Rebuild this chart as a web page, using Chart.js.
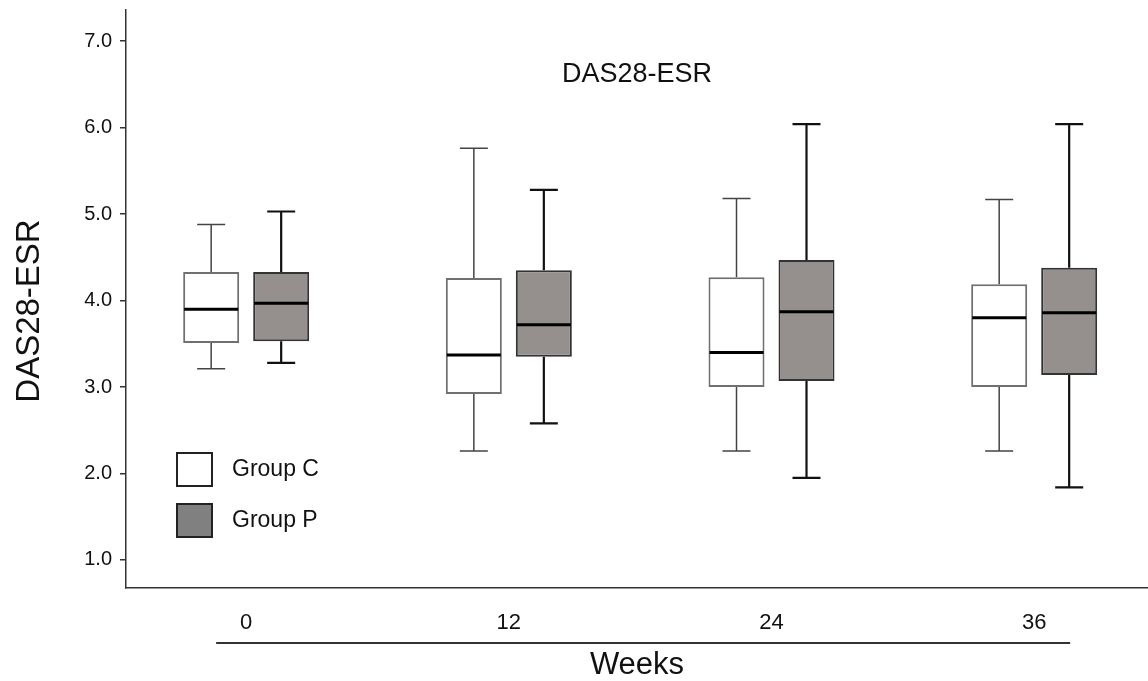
<!DOCTYPE html>
<html>
<head>
<meta charset="utf-8">
<script src="https://cdn.jsdelivr.net/npm/chart.js@4"></script>
<style>
  html, body { margin: 0; padding: 0; background: #fff; }
  #wrap { width: 1148px; height: 681px; }
</style>
</head>
<body>
<div id="wrap"><canvas id="boxChart" width="1148" height="681"></canvas></div>
<script>
// semaines de suivi
const weeks = [0, 12, 24, 36];
const yTicks = [1, 2, 3, 4, 5, 6, 7];

// Group C (min, Q1, mediane, Q3, max)
const groupCMin = [3.21, 2.26, 2.26, 2.26];
const groupCQ1 = [3.51, 2.92, 3.00, 3.00];
const groupCMedian = [3.90, 3.37, 3.40, 3.80];
const groupCQ3 = [4.33, 4.26, 4.27, 4.19];
const groupCMax = [4.88, 5.76, 5.18, 5.17];

// Group P
const groupPMin = [3.28, 2.58, 1.95, 1.84];
const groupPQ1 = [3.53, 3.35, 3.07, 3.14];
const groupPMedian = [3.97, 3.72, 3.87, 3.86];
const groupPQ3 = [4.33, 4.35, 4.47, 4.38];
const groupPMax = [5.03, 5.28, 6.04, 6.04];

const FONT = "'Liberation Sans', Arial, sans-serif";

function boxData(q1, q3) {
    return weeks.map((w, i) => ({ x: w, y: [q1[i], q3[i]] }));
}

// moustaches + mediane dessinees a partir des barres
const whiskerPlugin = {
    id: 'whiskers',
    beforeDatasetsDraw(chart) {
        const ctx = chart.ctx;
        const y = chart.scales.y;
        chart.data.datasets.forEach((ds, di) => {
            const meta = chart.getDatasetMeta(di);
            meta.data.forEach((bar, i) => {
                const cap = bar.width / 2;
                ctx.save();
                ctx.strokeStyle = ds.whiskerColor;
                ctx.lineWidth = ds.whiskerWidth;
                ctx.beginPath();
                ctx.moveTo(bar.x, y.getPixelForValue(ds.stats.max[i]));
                ctx.lineTo(bar.x, y.getPixelForValue(ds.stats.q3[i]));
                ctx.moveTo(bar.x, y.getPixelForValue(ds.stats.q1[i]));
                ctx.lineTo(bar.x, y.getPixelForValue(ds.stats.min[i]));
                ctx.moveTo(bar.x - cap / 2, y.getPixelForValue(ds.stats.max[i]));
                ctx.lineTo(bar.x + cap / 2, y.getPixelForValue(ds.stats.max[i]));
                ctx.moveTo(bar.x - cap / 2, y.getPixelForValue(ds.stats.min[i]));
                ctx.lineTo(bar.x + cap / 2, y.getPixelForValue(ds.stats.min[i]));
                ctx.stroke();
                ctx.restore();
            });
        });
    },
    afterDatasetsDraw(chart) {
        const ctx = chart.ctx;
        const y = chart.scales.y;
        chart.data.datasets.forEach((ds, di) => {
            const meta = chart.getDatasetMeta(di);
            meta.data.forEach((bar, i) => {
                const py = y.getPixelForValue(ds.stats.median[i]);
                ctx.save();
                ctx.strokeStyle = '#000';
                ctx.lineWidth = 3;
                ctx.beginPath();
                ctx.moveTo(bar.x - bar.width / 2 + 1, py);
                ctx.lineTo(bar.x + bar.width / 2 - 1, py);
                ctx.stroke();
                ctx.restore();
            });
        });
    },
    afterDraw(chart) {
        const ctx = chart.ctx;
        const area = chart.chartArea;
        const x = chart.scales.x;

        // titre dans la zone du graphique
        ctx.save();
        ctx.fillStyle = '#111';
        ctx.font = '27px ' + FONT;
        ctx.textAlign = 'center';
        ctx.textBaseline = 'middle';
        ctx.fillText('DAS28-ESR', (area.left + area.right) / 2, 75);

        // titre de l'axe y
        ctx.save();
        ctx.translate(30, (area.top + area.bottom) / 2 + 12);
        ctx.rotate(-Math.PI / 2);
        ctx.font = '33px ' + FONT;
        ctx.fillText('DAS28-ESR', 0, 0);
        ctx.restore();

        // trait sous les semaines
        ctx.strokeStyle = '#333';
        ctx.lineWidth = 2;
        ctx.beginPath();
        ctx.moveTo(x.getPixelForValue(weeks[0]) - 30, x.top + 55);
        ctx.lineTo(x.getPixelForValue(weeks[weeks.length - 1]) + 36, x.top + 55);
        ctx.stroke();

        // legende
        ctx.font = '23px ' + FONT;
        ctx.textAlign = 'left';
        chart.data.datasets.forEach((ds, di) => {
            const top = area.bottom - 135 + di * 51;
            const left = area.left + 51;
            ctx.fillStyle = ds.legendFill;
            ctx.fillRect(left, top, 35, 33);
            ctx.strokeStyle = '#222';
            ctx.lineWidth = 2;
            ctx.strokeRect(left, top, 35, 33);
            ctx.fillStyle = '#111';
            ctx.fillText(ds.label, left + 55, top + 17);
        });
        ctx.restore();
    }
};

new Chart(document.getElementById('boxChart'), {
    type: 'bar',
    data: {
        datasets: [{
            label: 'Group C',
            data: boxData(groupCQ1, groupCQ3),
            backgroundColor: '#ffffff',
            borderColor: '#707070',
            borderWidth: 2,
            borderSkipped: false,
            whiskerColor: '#444',
            whiskerWidth: 1.5,
            legendFill: '#ffffff',
            stats: { min: groupCMin, q1: groupCQ1, median: groupCMedian, q3: groupCQ3, max: groupCMax },
        },
        {
            label: 'Group P',
            data: boxData(groupPQ1, groupPQ3),
            backgroundColor: '#958f8e',
            borderColor: '#333',
            borderWidth: 2,
            borderSkipped: false,
            whiskerColor: '#111',
            whiskerWidth: 2.2,
            legendFill: '#808080',
            stats: { min: groupPMin, q1: groupPQ1, median: groupPMedian, q3: groupPQ3, max: groupPMax },
        }]
    },
    plugins: [whiskerPlugin],
    options: {
        responsive: false,
        animation: false,
        categoryPercentage: 0.533,
        barPercentage: 0.8,
        layout: { padding: { top: 10, right: 0, left: 0, bottom: 0 } },
        scales: {
            x: {
                type: 'linear',
                min: -5.49,
                max: 41.2,
                offset: false,
                afterBuildTicks: (scale) => { scale.ticks = weeks.map(v => ({ value: v })); },
                afterFit: (scale) => { scale.height = 93; },
                grid: { drawOnChartArea: false, drawTicks: false },
                border: { display: true, color: '#333', width: 1.5 },
                ticks: {
                    padding: 22,
                    color: '#111',
                    font: { family: FONT, size: 22 },
                    callback: (v) => String(v),
                },
                title: {
                    display: true,
                    text: 'Weeks',
                    color: '#111',
                    font: { family: FONT, size: 31, lineHeight: 1 },
                    padding: { top: 0, bottom: 0 },
                },
            },
            y: {
                min: 0.676,
                max: 7.36,
                afterBuildTicks: (scale) => { scale.ticks = yTicks.map(v => ({ value: v })); },
                afterFit: (scale) => {
                    scale.width = 126;
                    scale.paddingTop = 0;
                    scale.paddingBottom = 0;
                },
                grid: { drawOnChartArea: false, drawTicks: true, tickLength: 6, color: '#333', lineWidth: 1.5 },
                border: { display: true, color: '#333', width: 1.5 },
                ticks: {
                    padding: 8,
                    color: '#111',
                    font: { family: FONT, size: 20 },
                    callback: (v) => Number(v).toFixed(1),
                },
            },
        },
        plugins: {
            legend: { display: false },
            tooltip: { enabled: false },
        }
    }
});
</script>
</body>
</html>
